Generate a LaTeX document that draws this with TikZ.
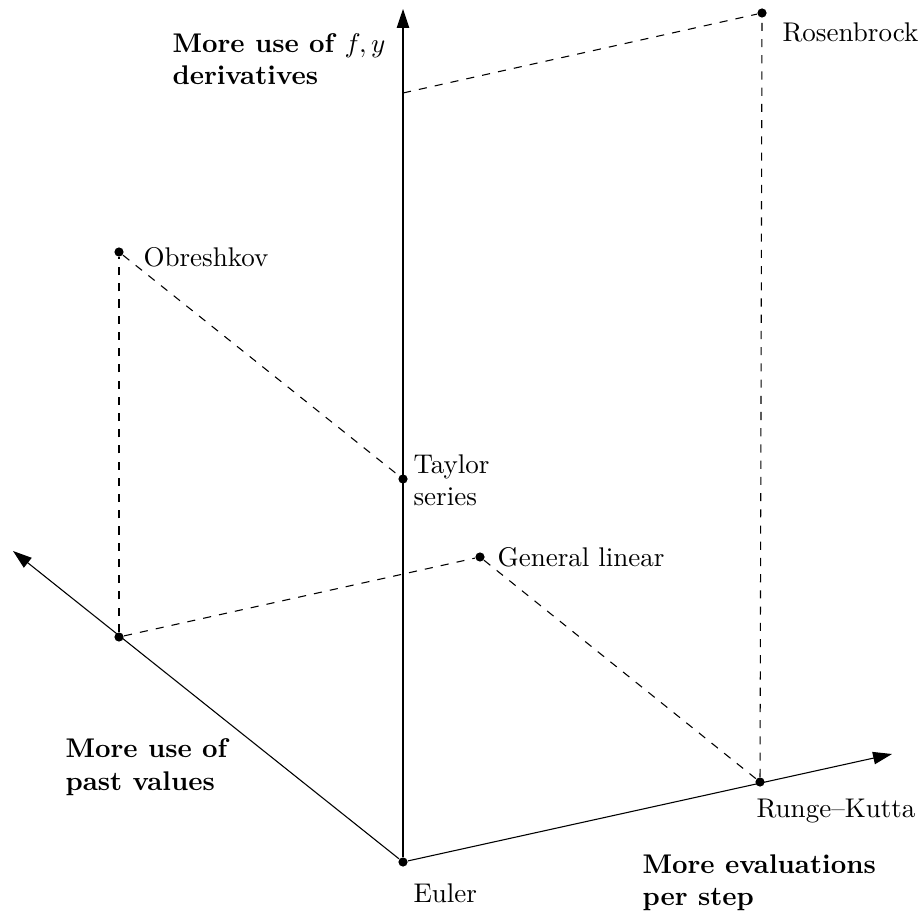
\documentclass[tikz,border=0pt]{standalone}
\usetikzlibrary{arrows.meta}

\begin{document}
\begin{tikzpicture}[
    x=0.37pt, y=-0.37pt,
    dot/.style={circle, fill, inner sep=0pt, minimum size=3.4pt},
    lbl/.style={anchor=west, inner sep=0pt, align=left},
    axislbl/.style={lbl, font=\bfseries},
    axis/.style={-{Triangle[length=7pt,width=4.6pt]}},
    guide/.style={dashed}
  ]
    \useasboundingbox (0,0) rectangle (920,913);

    % methods
    \node[dot] (euler)  at (403,862) {};
    \node[dot] (rk)     at (760,782) {};
    \node[dot] (past)   at (119,637) {};
    \node[dot] (taylor) at (403,479) {};
    \node[dot] (gl)     at (480,557) {};
    \node[dot] (obres)  at (119,252) {};
    \node[dot] (rosen)  at (762,13)  {};

    \coordinate (fytop)   at (403,9);
    \coordinate (pasttop) at (13,551);
    \coordinate (evaltop) at (892,754);
    \coordinate (fyrk)    at (403,93);

    % axes
    \draw[axis] (euler) -- (fytop);
    \draw[axis] (euler) -- (pasttop);
    \draw[axis] (euler) -- (evaltop);

    % guide lines
    \draw[guide] (past) -- (obres);
    \draw[guide] (obres) -- (taylor);
    \draw[guide] (past) -- (gl);
    \draw[guide] (gl) -- (rk);
    \draw[guide] (rk) -- (rosen);
    \draw[guide] (fyrk) -- (rosen);

    % labels
    \node[lbl] (eulerlbl)  at (413,893) {Euler};
    \node[lbl] (rklbl)     at (756,811) {Runge--Kutta};
    \node[lbl] (taylorlbl) at (413,480) {Taylor\\series};
    \node[lbl] (gllbl)     at (497,557) {General linear};
    \node[lbl] (obreslbl)  at (143,257) {Obreshkov};
    \node[lbl] (rosenlbl)  at (782,32)  {Rosenbrock};

    \node[axislbl] (fylbl)   at (172,59)  {More use of $f,y$\\derivatives};
    \node[axislbl] (pastlbl) at (65,767)  {More use of\\past values};
    \node[axislbl] (evallbl) at (642,883) {More evaluations\\per step};
  \end{tikzpicture}
\end{document}
